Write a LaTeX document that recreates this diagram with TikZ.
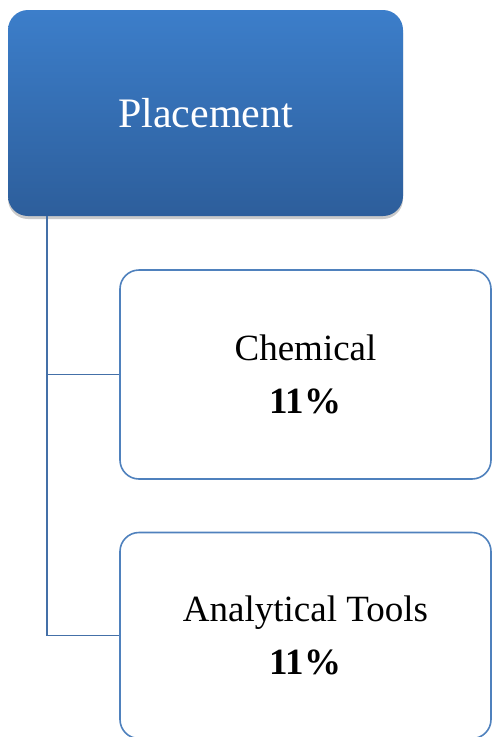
\documentclass[tikz,border=0pt]{standalone}
\usepackage{fontspec}
\setmainfont{Liberation Serif}
\usetikzlibrary{shadows}
\definecolor{topblue}{RGB}{60,126,202}
\definecolor{botblue}{RGB}{45,94,155}
\definecolor{edgeblue}{RGB}{79,129,189}
\definecolor{linkblue}{RGB}{68,112,168}
\begin{document}
\begin{tikzpicture}[x=1pt,y=-1pt,
  rootbox/.style={rectangle, rounded corners=20pt, top color=topblue, bottom color=botblue, draw=none,
    minimum width=395pt, minimum height=206pt, inner sep=0pt, text=white, font=\fontsize{42}{48}\selectfont,
    drop shadow={shadow xshift=0pt, shadow yshift=-3pt, opacity=0.35, fill=black!60}},
  childbox/.style={rectangle, rounded corners=19pt, draw=edgeblue, line width=1.6pt, fill=white,
    minimum width=371pt, inner sep=0pt, align=center, font=\fontsize{37}{53}\selectfont},
  link/.style={draw=linkblue, line width=1.6pt}]
\useasboundingbox (0,0) rectangle (493,737);
\node[rootbox] (root) at (205.5,113) {Placement};
\node[childbox, minimum height=209pt] (c1) at (305.5,374.5) {Chemical\\\textbf{11\%}};
\node[childbox, minimum height=206pt] (c2) at (305.5,635.5) {Analytical Tools\\\textbf{11\%}};
\coordinate (s) at (47,216);
\coordinate (j1) at (47,374.5);
\coordinate (j2) at (47,635.5);
\draw[link] (s) -- (j2) -- (c2.west);
\draw[link] (j1) -- (c1.west);
\end{tikzpicture}
\end{document}
